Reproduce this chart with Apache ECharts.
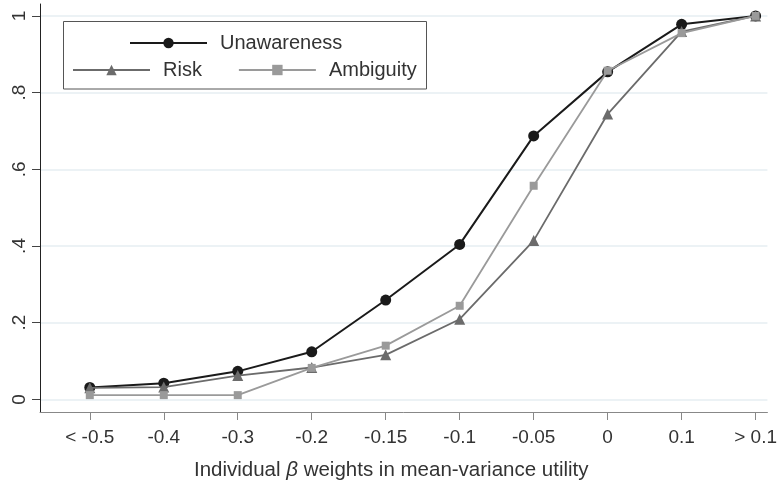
<!DOCTYPE html>
<html>
<head>
<meta charset="utf-8">
<script src="https://cdn.jsdelivr.net/npm/echarts@6/dist/echarts.min.js"></script>
<style>
  html, body { margin: 0; padding: 0; background: #fff; }
  #main { width: 780px; height: 486px; }
</style>
</head>
<body>
<div id="main"></div>
<script>
// categories on the x axis (beta weight bins)
var categories = ['< -0.5', '-0.4', '-0.3', '-0.2', '-0.15', '-0.1', '-0.05', '0', '0.1', '> 0.1'];

// cumulative shares
var unawareness = [0.031, 0.042, 0.073, 0.124, 0.259, 0.404, 0.687, 0.854, 0.978, 1.0];
var risk        = [0.030, 0.032, 0.062, 0.083, 0.116, 0.209, 0.414, 0.744, 0.959, 1.0];
var ambiguity   = [0.011, 0.011, 0.011, 0.082, 0.140, 0.244, 0.557, 0.857, 0.955, 1.0];

var yTicks = [0, 0.2, 0.4, 0.6, 0.8, 1];
var yTickLabels = ['0', '.2', '.4', '.6', '.8', '1'];

var catIdx = categories.map(function (c, i) { return i; });

function pairs(arr) {
  return arr.map(function (v, i) { return [i, v]; });
}

var font = 'Liberation Sans, Arial, Helvetica, sans-serif';

var myChart = echarts.init(document.getElementById('main'));

var option = {
  backgroundColor: '#fff',
  animation: false,
  grid: { left: 40, right: 8, top: 4, bottom: 74, containLabel: false },
  graphic: [{
    type: 'rect',
    z: 0,
    shape: { x: 63.5, y: 21.5, width: 363, height: 67.5 },
    style: { fill: '#fff', stroke: '#555', lineWidth: 1 }
  }],
  legend: [{
    data: ['Unawareness'],
    left: 129, top: 33,
    padding: 0,
    itemWidth: 77, itemHeight: 13,
    textStyle: { fontFamily: font, fontSize: 20, color: '#333', padding: [0, 0, 0, 8] }
  }, {
    data: ['Risk', 'Ambiguity'],
    left: 72, top: 60,
    padding: 0,
    itemGap: 36,
    itemWidth: 77, itemHeight: 13,
    textStyle: { fontFamily: font, fontSize: 20, color: '#333', padding: [0, 0, 0, 8] }
  }],
  xAxis: {
    type: 'value',
    min: -0.673,
    max: 9.16,
    name: '{a|Individual }{b|β}{a| weights in mean-variance utility}',
    nameLocation: 'middle',
    nameGap: 48,
    nameTextStyle: {
      padding: [0, 25, 0, 0],
      rich: {
        a: { fontFamily: font, fontSize: 20.5, color: '#333' },
        b: { fontFamily: font, fontSize: 20.5, color: '#333', fontStyle: 'italic' }
      }
    },
    axisLine: { show: true, onZero: false, lineStyle: { color: '#888', width: 1 } },
    axisTick: { show: true, length: 8, customValues: catIdx, lineStyle: { color: '#888' } },
    axisLabel: {
      customValues: catIdx,
      margin: 16,
      fontFamily: font, fontSize: 19, color: '#333',
      formatter: function (v) { return categories[Math.round(v)]; }
    },
    splitLine: { show: false }
  },
  yAxis: {
    type: 'value',
    min: -0.033,
    max: 1.031,
    axisLine: { show: true, onZero: false, lineStyle: { color: '#222', width: 1 } },
    axisTick: { show: true, length: 8, customValues: yTicks, lineStyle: { color: '#444' } },
    axisLabel: {
      customValues: yTicks,
      rotate: 90,
      margin: 11,
      fontFamily: font, fontSize: 19, color: '#333',
      formatter: function (v) {
        var i = yTicks.indexOf(Math.round(v * 10) / 10);
        return i >= 0 ? yTickLabels[i] : '';
      }
    },
    splitLine: { show: true, lineStyle: { color: '#e6eef2', width: 1.5 } }
  },
  series: [{
    name: 'Unawareness',
    type: 'line',
    data: pairs(unawareness),
    symbol: 'circle', symbolSize: 11,
    z: 2,
    lineStyle: { color: '#1a1a1a', width: 2 },
    itemStyle: { color: '#1a1a1a' }
  }, {
    name: 'Risk',
    type: 'line',
    data: pairs(risk),
    symbol: 'triangle', symbolSize: 11,
    z: 3,
    lineStyle: { color: '#6b6b6b', width: 1.8 },
    itemStyle: { color: '#6b6b6b' }
  }, {
    name: 'Ambiguity',
    type: 'line',
    data: pairs(ambiguity),
    symbol: 'rect', symbolSize: 8,
    z: 4,
    lineStyle: { color: '#9a9a9a', width: 1.8 },
    itemStyle: { color: '#9a9a9a' }
  }]
};

myChart.setOption(option);
</script>
</body>
</html>
